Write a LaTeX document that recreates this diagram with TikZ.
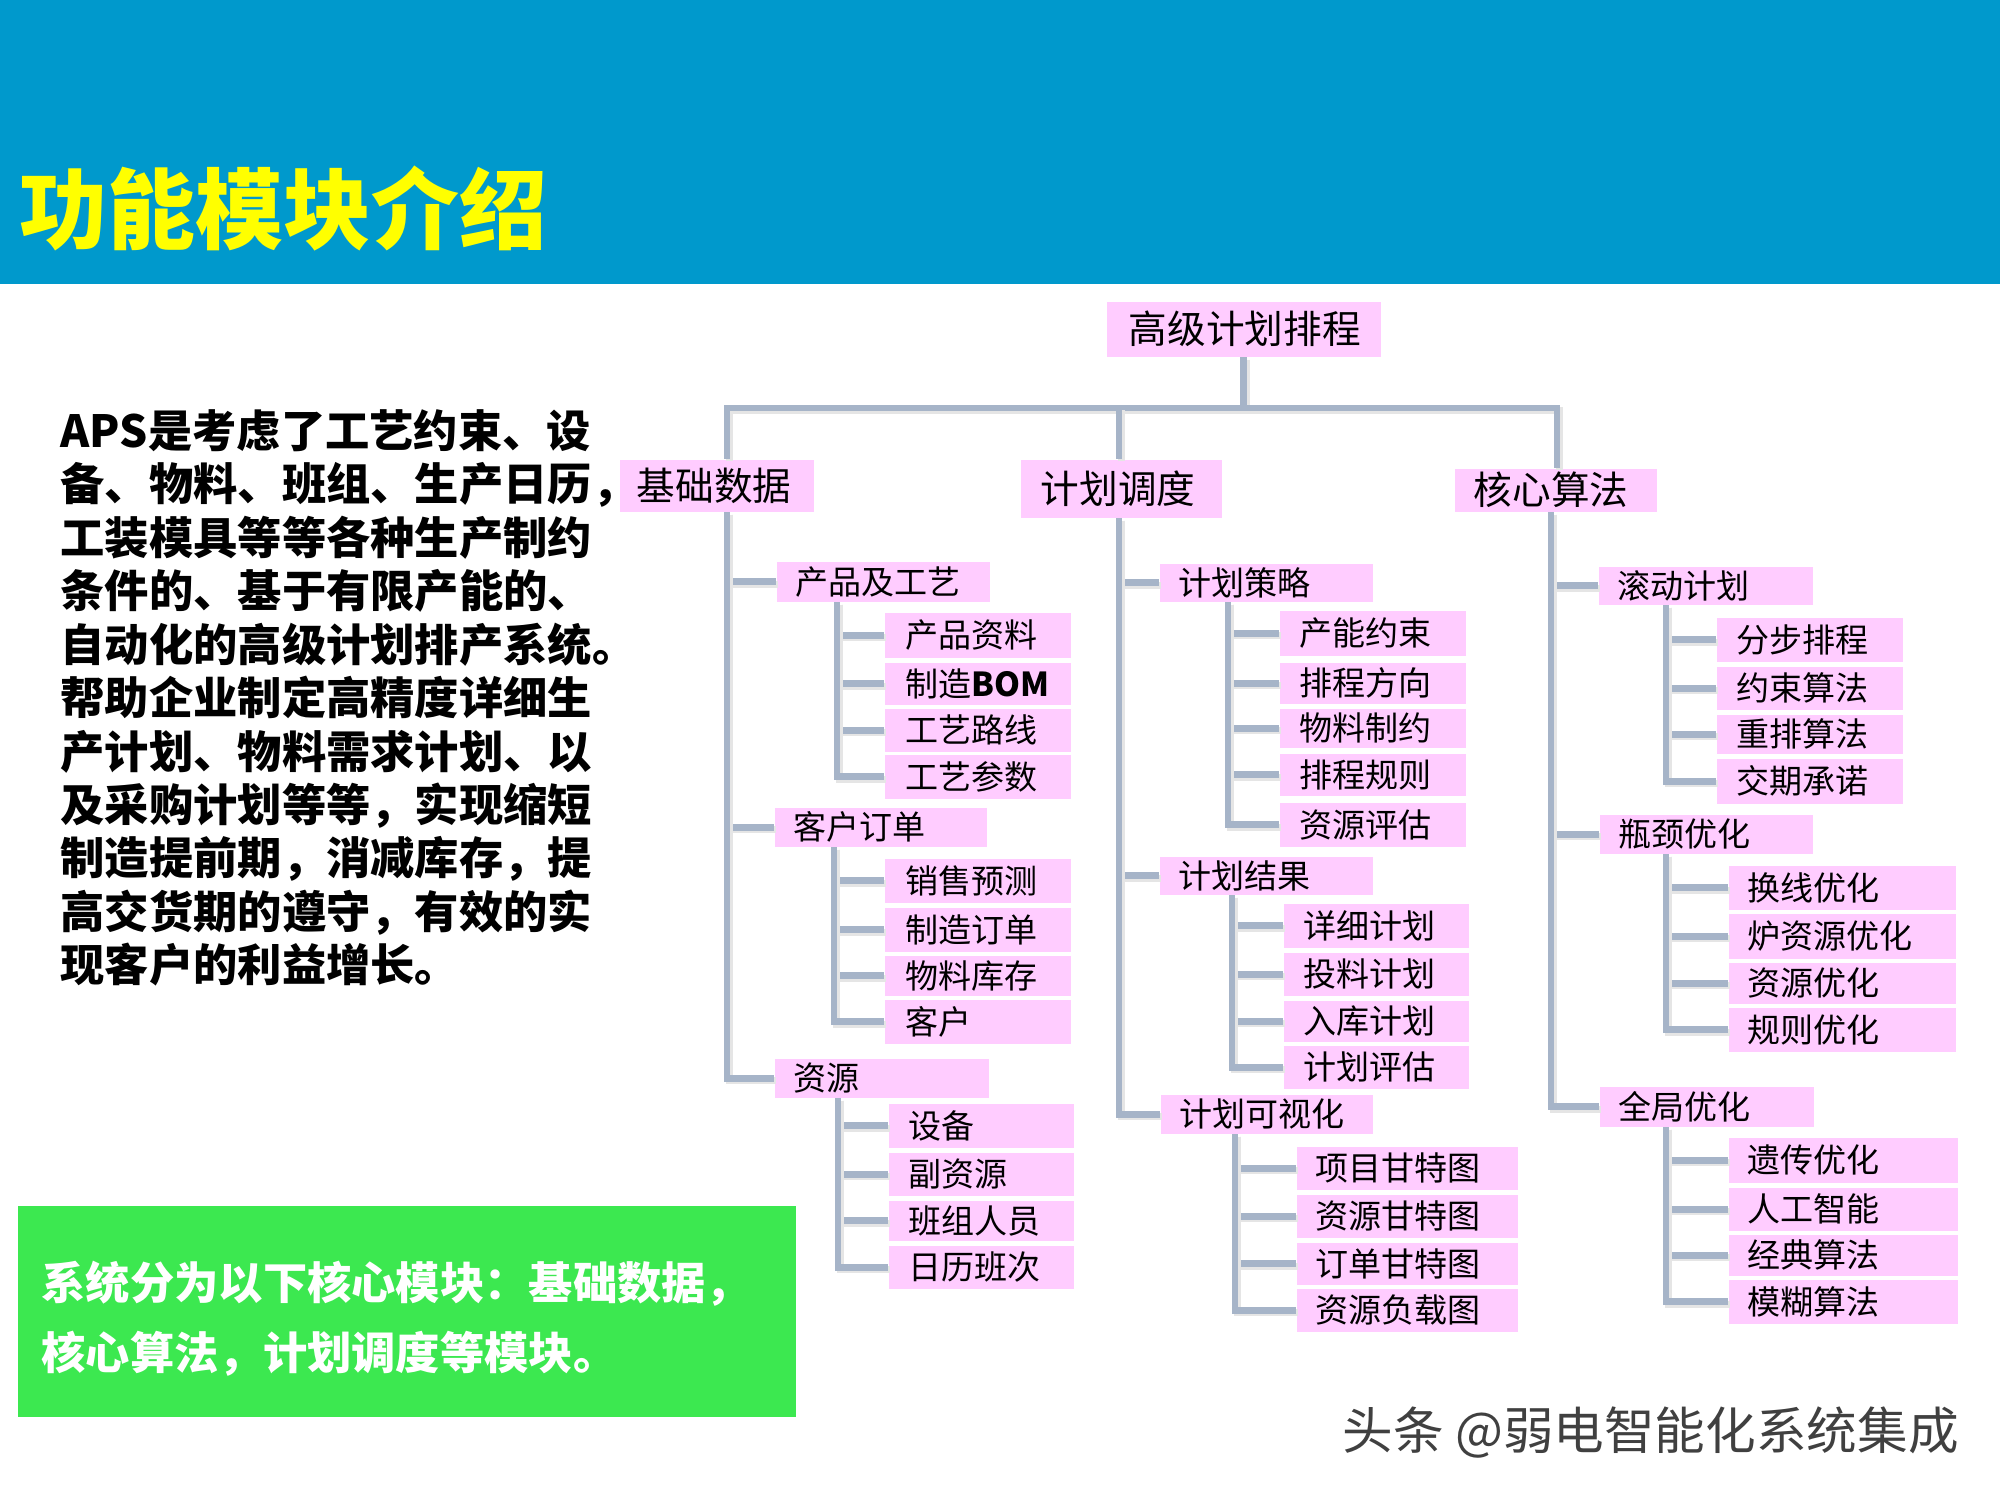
\documentclass[tikz,border=0pt]{standalone}
\usepackage{fontspec}
\setmainfont{Noto Sans CJK SC}
\usetikzlibrary{calc}
\definecolor{hdr}{RGB}{0,153,204}
\definecolor{pinkc}{RGB}{255,204,255}
\definecolor{connc}{RGB}{166,180,200}
\definecolor{grn}{RGB}{60,232,80}
\definecolor{ttl}{RGB}{255,255,0}
\tikzset{
  pbox/.style={rectangle, fill=pinkc, draw=none, inner sep=0pt, anchor=north west},
  big/.style={font=\fontsize{11}{13}\selectfont, inner sep=0pt, text=black},
  small/.style={font=\fontsize{9.4}{11}\selectfont, inner sep=0pt, text=black},
  conn/.style={draw=connc, line width=1.9pt,
    preaction={draw=black!10, line width=1.9pt, transform canvas={shift={(0.7pt,-0.7pt)}}}},
}
\newcommand\pbx[8]{%
  \node[pbox, minimum width=#4*0.1mm, minimum height=#5*0.1mm] (#1) at (#2,#3) {};
  \node[#8, anchor=west] (#1t) at ([xshift=#6*0.1mm]#1.west) {#7};}
\begin{document}
\begin{tikzpicture}[x=0.1mm,y=-0.1mm]
\useasboundingbox (0,0) rectangle (2000,1500);
\fill[white] (0,0) rectangle (2000,1500);
\fill[hdr] (0,0) rectangle (2000,284);
\node[anchor=west, inner sep=0pt, text=ttl, font=\fontsize{25}{30}\selectfont\bfseries] (title) at (19,208) {功能模块介绍};

\node[anchor=north west, inner sep=0pt, align=left, font=\fontsize{12.6}{15.2}\selectfont\bfseries] (para) at (60,409)
 {APS是考虑了工艺约束、设\\备、物料、班组、生产日历，\\工装模具等等各种生产制约\\条件的、基于有限产能的、\\自动化的高级计划排产系统。\\帮助企业制定高精度详细生\\产计划、物料需求计划、以\\及采购计划等等，实现缩短\\制造提前期，消减库存，提\\高交货期的遵守，有效的实\\现客户的利益增长。};

\node[fill=grn, anchor=north west, minimum width=778*0.1mm, minimum height=211*0.1mm, inner sep=0pt] (gbox) at (17,1205) {};
\node[anchor=west, inner sep=0pt, align=left, text=white, font=\fontsize{12.6}{19.9}\selectfont\bfseries] (gtext) at (41,1319)
 {系统分为以下核心模块：基础数据，\\核心算法，计划调度等模块。};

\node[anchor=west, inner sep=0pt, text=black!75, font=\fontsize{14.4}{16}\selectfont] (wm) at (1342,1433) {头条 @弱电智能化系统集成};

% tree boxes
\pbx{root}{1106}{301}{274}{55}{22}{高级计划排程}{big}
\pbx{b1}{619}{459}{194}{52}{17}{基础数据}{big}
\pbx{b2}{1020}{459}{201}{58}{20}{计划调度}{big}
\pbx{b3}{1454}{468}{202}{43}{19}{核心算法}{big}

\pbx{c11}{776}{561}{213}{40}{19}{产品及工艺}{small}
\pbx{c12}{774}{807}{212}{39}{19}{客户订单}{small}
\pbx{c13}{774}{1058}{214}{39}{19}{资源}{small}
\pbx{c21}{1159}{563}{213}{38}{19}{计划策略}{small}
\pbx{c22}{1159}{856}{213}{38}{19}{计划结果}{small}
\pbx{c23}{1160}{1094}{212}{39}{19}{计划可视化}{small}
\pbx{c31}{1598}{566}{214}{38}{19}{滚动计划}{small}
\pbx{c32}{1599}{814}{213}{39}{19}{瓶颈优化}{small}
\pbx{c33}{1599}{1086}{214}{40}{19}{全局优化}{small}

\pbx{d111}{884}{612}{186}{45}{21}{产品资料}{small}
\pbx{d112}{884}{662}{186}{42}{21}{制造\textbf{BOM}}{small}
\pbx{d113}{884}{708}{186}{43}{21}{工艺路线}{small}
\pbx{d114}{884}{754}{186}{44}{21}{工艺参数}{small}
\pbx{d121}{884}{858}{186}{44}{21}{销售预测}{small}
\pbx{d122}{884}{907}{186}{44}{21}{制造订单}{small}
\pbx{d123}{884}{955}{186}{40}{21}{物料库存}{small}
\pbx{d124}{884}{999}{186}{44}{21}{客户}{small}
\pbx{d131}{888}{1103}{185}{44}{20}{设备}{small}
\pbx{d132}{888}{1152}{185}{43}{20}{副资源}{small}
\pbx{d133}{888}{1200}{185}{40}{20}{班组人员}{small}
\pbx{d134}{888}{1245}{185}{43}{20}{日历班次}{small}

\pbx{d211}{1279}{610}{186}{45}{20}{产能约束}{small}
\pbx{d212}{1279}{662}{186}{41}{20}{排程方向}{small}
\pbx{d213}{1279}{708}{186}{39}{20}{物料制约}{small}
\pbx{d214}{1279}{753}{186}{42}{20}{排程规则}{small}
\pbx{d215}{1279}{802}{186}{44}{20}{资源评估}{small}
\pbx{d221}{1283}{903}{185}{44}{20}{详细计划}{small}
\pbx{d222}{1283}{952}{185}{43}{20}{投料计划}{small}
\pbx{d223}{1283}{1000}{185}{41}{20}{入库计划}{small}
\pbx{d224}{1283}{1045}{185}{43}{20}{计划评估}{small}
\pbx{d231}{1296}{1146}{221}{43}{19}{项目甘特图}{small}
\pbx{d232}{1296}{1194}{221}{43}{19}{资源甘特图}{small}
\pbx{d233}{1296}{1242}{221}{42}{19}{订单甘特图}{small}
\pbx{d234}{1296}{1288}{221}{43}{19}{资源负载图}{small}

\pbx{d311}{1716}{617}{186}{44}{20}{分步排程}{small}
\pbx{d312}{1716}{666}{186}{43}{20}{约束算法}{small}
\pbx{d313}{1716}{714}{186}{39}{20}{重排算法}{small}
\pbx{d314}{1716}{758}{186}{45}{20}{交期承诺}{small}
\pbx{d321}{1728}{865}{227}{44}{19}{换线优化}{small}
\pbx{d322}{1728}{913}{227}{45}{19}{炉资源优化}{small}
\pbx{d323}{1728}{962}{227}{41}{19}{资源优化}{small}
\pbx{d324}{1728}{1007}{227}{44}{19}{规则优化}{small}
\pbx{d331}{1728}{1137}{229}{45}{19}{遗传优化}{small}
\pbx{d332}{1728}{1187}{229}{43}{19}{人工智能}{small}
\pbx{d333}{1728}{1234}{229}{41}{19}{经典算法}{small}
\pbx{d334}{1728}{1279}{229}{44}{19}{模糊算法}{small}

% trunk coordinates
\coordinate (bar1) at (727,408);
\coordinate (bar3) at (1557,408);
\coordinate (t1) at (727,0);
\coordinate (t2) at (1119,0);
\coordinate (t3) at (1551,0);
\coordinate (s11) at (837,0);
\coordinate (s12) at (834,0);
\coordinate (s13) at (838,0);
\coordinate (s21) at (1228,0);
\coordinate (s22) at (1232,0);
\coordinate (s23) at (1235,0);
\coordinate (s31) at (1666,0);
\coordinate (s32) at (1666,0);
\coordinate (s33) at (1666,0);

% connectors
\draw[conn] (root.south) -- (root.south |- bar1);
\draw[conn] (b1.north -| bar1) |- (bar3) -- (b3.north -| bar3);
\draw[conn] (b2.north -| t2) -- (bar1 -| t2);
\foreach \c in {c11,c12,c13} \draw[conn] (b1.south -| t1) |- (\c.west);
\foreach \c in {c21,c22,c23} \draw[conn] (b2.south -| t2) |- (\c.west);
\foreach \c in {c31,c32,c33} \draw[conn] (b3.south -| t3) |- (\c.west);
\foreach \c in {d111,d112,d113,d114} \draw[conn] (c11.south -| s11) |- (\c.west);
\foreach \c in {d121,d122,d123,d124} \draw[conn] (c12.south -| s12) |- (\c.west);
\foreach \c in {d131,d132,d133,d134} \draw[conn] (c13.south -| s13) |- (\c.west);
\foreach \c in {d211,d212,d213,d214,d215} \draw[conn] (c21.south -| s21) |- (\c.west);
\foreach \c in {d221,d222,d223,d224} \draw[conn] (c22.south -| s22) |- (\c.west);
\foreach \c in {d231,d232,d233,d234} \draw[conn] (c23.south -| s23) |- (\c.west);
\foreach \c in {d311,d312,d313,d314} \draw[conn] (c31.south -| s31) |- (\c.west);
\foreach \c in {d321,d322,d323,d324} \draw[conn] (c32.south -| s32) |- (\c.west);
\foreach \c in {d331,d332,d333,d334} \draw[conn] (c33.south -| s33) |- (\c.west);
\end{tikzpicture}
\end{document}
